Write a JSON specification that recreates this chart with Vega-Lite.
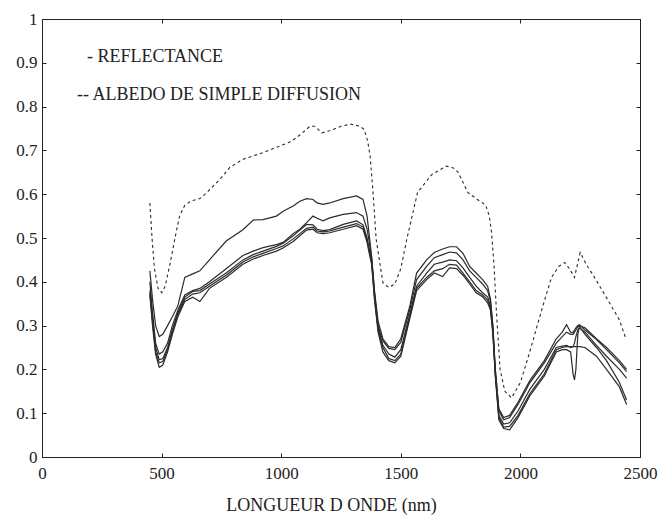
{
  "$schema": "https://vega.github.io/schema/vega-lite/v6.json",
  "width": 598,
  "height": 438,
  "autosize": {"type": "none"},
  "padding": {"left": 42, "top": 19, "right": 19, "bottom": 60},
  "background": "white",
  "config": {
    "view": {"stroke": "#222", "strokeWidth": 1},
    "font": "Liberation Serif",
    "axis": {"grid": false, "domainColor": "#222", "tickColor": "#222", "labelColor": "#222", "titleColor": "#222", "labelFontSize": 17, "titleFontSize": 18, "titleFontWeight": "normal", "labelFont": "Liberation Serif", "titleFont": "Liberation Serif"}
  },
  "datasets": {
    "refl": [
      {"x":451,"A":0.425,"B":0.40,"C":0.38,"D":0.375,"E":0.37},
      {"x":462,"A":0.36,"B":0.33,"C":0.32,"D":0.31,"E":0.30},
      {"x":475,"A":0.30,"B":0.26,"C":0.25,"D":0.24,"E":0.235},
      {"x":490,"A":0.275,"B":0.235,"C":0.222,"D":0.215,"E":0.205},
      {"x":505,"A":0.28,"B":0.24,"C":0.225,"D":0.218,"E":0.21},
      {"x":525,"A":0.30,"B":0.26,"C":0.25,"D":0.245,"E":0.24},
      {"x":545,"A":0.32,"B":0.30,"C":0.29,"D":0.285,"E":0.28},
      {"x":568,"A":0.345,"B":0.335,"C":0.33,"D":0.325,"E":0.32},
      {"x":597,"A":0.41,"B":0.37,"C":0.365,"D":0.36,"E":0.355},
      {"x":630,"A":0.418,"B":0.38,"C":0.378,"D":0.372,"E":0.365},
      {"x":660,"A":0.425,"B":0.385,"C":0.38,"D":0.375,"E":0.355},
      {"x":700,"A":0.45,"B":0.40,"C":0.395,"D":0.39,"E":0.385},
      {"x":770,"A":0.493,"B":0.43,"C":0.42,"D":0.415,"E":0.41},
      {"x":840,"A":0.519,"B":0.46,"C":0.45,"D":0.445,"E":0.44},
      {"x":883,"A":0.541,"B":0.47,"C":0.462,"D":0.457,"E":0.452},
      {"x":924,"A":0.542,"B":0.478,"C":0.47,"D":0.465,"E":0.46},
      {"x":980,"A":0.55,"B":0.485,"C":0.481,"D":0.476,"E":0.47},
      {"x":1008,"A":0.561,"B":0.49,"C":0.488,"D":0.482,"E":0.477},
      {"x":1050,"A":0.573,"B":0.51,"C":0.505,"D":0.498,"E":0.492},
      {"x":1078,"A":0.584,"B":0.52,"C":0.518,"D":0.51,"E":0.505},
      {"x":1106,"A":0.59,"B":0.535,"C":0.531,"D":0.522,"E":0.518},
      {"x":1133,"A":0.588,"B":0.55,"C":0.53,"D":0.525,"E":0.52},
      {"x":1150,"A":0.58,"B":0.545,"C":0.52,"D":0.516,"E":0.512},
      {"x":1175,"A":0.577,"B":0.539,"C":0.517,"D":0.514,"E":0.51},
      {"x":1203,"A":0.58,"B":0.546,"C":0.519,"D":0.516,"E":0.512},
      {"x":1259,"A":0.59,"B":0.554,"C":0.531,"D":0.525,"E":0.52},
      {"x":1315,"A":0.596,"B":0.558,"C":0.539,"D":0.533,"E":0.528},
      {"x":1342,"A":0.588,"B":0.55,"C":0.53,"D":0.525,"E":0.52},
      {"x":1359,"A":0.55,"B":0.52,"C":0.50,"D":0.495,"E":0.49},
      {"x":1370,"A":0.497,"B":0.485,"C":0.47,"D":0.465,"E":0.46},
      {"x":1378,"A":0.458,"B":0.455,"C":0.45,"D":0.445,"E":0.44},
      {"x":1390,"A":0.38,"B":0.375,"C":0.37,"D":0.365,"E":0.36},
      {"x":1405,"A":0.31,"B":0.30,"C":0.295,"D":0.29,"E":0.285},
      {"x":1425,"A":0.27,"B":0.265,"C":0.255,"D":0.25,"E":0.24},
      {"x":1450,"A":0.252,"B":0.248,"C":0.235,"D":0.225,"E":0.22},
      {"x":1475,"A":0.25,"B":0.245,"C":0.228,"D":0.22,"E":0.215},
      {"x":1500,"A":0.27,"B":0.262,"C":0.245,"D":0.235,"E":0.23},
      {"x":1537,"A":0.343,"B":0.335,"C":0.325,"D":0.32,"E":0.315},
      {"x":1566,"A":0.42,"B":0.405,"C":0.39,"D":0.385,"E":0.38},
      {"x":1608,"A":0.45,"B":0.435,"C":0.42,"D":0.41,"E":0.405},
      {"x":1640,"A":0.467,"B":0.455,"C":0.44,"D":0.425,"E":0.42},
      {"x":1675,"A":0.475,"B":0.462,"C":0.445,"D":0.43,"E":0.412},
      {"x":1704,"A":0.48,"B":0.468,"C":0.45,"D":0.44,"E":0.432},
      {"x":1733,"A":0.48,"B":0.466,"C":0.448,"D":0.438,"E":0.43},
      {"x":1760,"A":0.465,"B":0.45,"C":0.432,"D":0.42,"E":0.415},
      {"x":1788,"A":0.435,"B":0.425,"C":0.41,"D":0.40,"E":0.395},
      {"x":1815,"A":0.42,"B":0.41,"C":0.39,"D":0.38,"E":0.375},
      {"x":1842,"A":0.405,"B":0.395,"C":0.375,"D":0.37,"E":0.366},
      {"x":1863,"A":0.39,"B":0.38,"C":0.365,"D":0.358,"E":0.352},
      {"x":1875,"A":0.36,"B":0.355,"C":0.345,"D":0.34,"E":0.335},
      {"x":1885,"A":0.30,"B":0.295,"C":0.29,"D":0.285,"E":0.28},
      {"x":1895,"A":0.20,"B":0.20,"C":0.19,"D":0.19,"E":0.185},
      {"x":1910,"A":0.11,"B":0.105,"C":0.095,"D":0.09,"E":0.085},
      {"x":1930,"A":0.09,"B":0.085,"C":0.075,"D":0.068,"E":0.065},
      {"x":1955,"A":0.095,"B":0.09,"C":0.078,"D":0.07,"E":0.062},
      {"x":1990,"A":0.125,"B":0.12,"C":0.105,"D":0.095,"E":0.09},
      {"x":2040,"A":0.175,"B":0.17,"C":0.155,"D":0.145,"E":0.14},
      {"x":2100,"A":0.22,"B":0.215,"C":0.20,"D":0.19,"E":0.185},
      {"x":2150,"A":0.27,"B":0.26,"C":0.25,"D":0.245,"E":0.24},
      {"x":2175,"A":0.285,"B":0.275,"C":0.253,"D":0.25,"E":0.245},
      {"x":2193,"A":0.302,"B":0.285,"C":0.255,"D":0.252,"E":0.245},
      {"x":2210,"A":0.285,"B":0.28,"C":0.25,"D":0.252,"E":0.24},
      {"x":2220,"A":0.284,"B":0.28,"C":0.252,"D":0.252,"E":0.19},
      {"x":2226,"A":0.29,"B":0.285,"C":0.26,"D":0.252,"E":0.176},
      {"x":2232,"A":0.295,"B":0.29,"C":0.275,"D":0.252,"E":0.20},
      {"x":2240,"A":0.30,"B":0.297,"C":0.29,"D":0.252,"E":0.28},
      {"x":2247,"A":0.302,"B":0.30,"C":0.295,"D":0.252,"E":0.297},
      {"x":2270,"A":0.29,"B":0.295,"C":0.285,"D":0.25,"E":0.28},
      {"x":2318,"A":0.268,"B":0.27,"C":0.255,"D":0.23,"E":0.25},
      {"x":2360,"A":0.245,"B":0.25,"C":0.23,"D":0.20,"E":0.22},
      {"x":2414,"A":0.215,"B":0.22,"C":0.20,"D":0.16,"E":0.17},
      {"x":2444,"A":0.195,"B":0.20,"C":0.18,"D":0.12,"E":0.13}
    ],
    "albedo": [
      {"x":451,"y":0.58},{"x":460,"y":0.50},{"x":470,"y":0.43},{"x":485,"y":0.385},
      {"x":501,"y":0.375},{"x":515,"y":0.39},{"x":535,"y":0.44},{"x":556,"y":0.50},
      {"x":575,"y":0.55},{"x":597,"y":0.575},{"x":625,"y":0.585},{"x":660,"y":0.59},
      {"x":688,"y":0.603},{"x":744,"y":0.634},{"x":785,"y":0.661},{"x":841,"y":0.68},
      {"x":925,"y":0.695},{"x":994,"y":0.71},{"x":1040,"y":0.72},{"x":1078,"y":0.735},
      {"x":1120,"y":0.755},{"x":1140,"y":0.755},{"x":1170,"y":0.74},{"x":1203,"y":0.745},
      {"x":1250,"y":0.755},{"x":1290,"y":0.76},{"x":1330,"y":0.755},{"x":1347,"y":0.748},
      {"x":1362,"y":0.72},{"x":1372,"y":0.686},{"x":1384,"y":0.604},{"x":1397,"y":0.497},
      {"x":1425,"y":0.398},{"x":1450,"y":0.387},{"x":1475,"y":0.395},{"x":1500,"y":0.43},
      {"x":1525,"y":0.497},{"x":1570,"y":0.604},{"x":1630,"y":0.645},{"x":1690,"y":0.664},
      {"x":1720,"y":0.66},{"x":1740,"y":0.65},{"x":1780,"y":0.604},{"x":1820,"y":0.588},
      {"x":1855,"y":0.575},{"x":1870,"y":0.55},{"x":1880,"y":0.51},{"x":1890,"y":0.435},
      {"x":1900,"y":0.33},{"x":1915,"y":0.2},{"x":1935,"y":0.15},{"x":1963,"y":0.135},
      {"x":2000,"y":0.17},{"x":2038,"y":0.238},{"x":2093,"y":0.343},{"x":2130,"y":0.41},
      {"x":2160,"y":0.435},{"x":2186,"y":0.444},{"x":2205,"y":0.43},{"x":2226,"y":0.41},
      {"x":2250,"y":0.467},{"x":2275,"y":0.44},{"x":2310,"y":0.41},{"x":2364,"y":0.36},
      {"x":2414,"y":0.313},{"x":2440,"y":0.272}
    ],
    "labels": [
      {"x":188,"y":0.902,"t":"- REFLECTANCE"},
      {"x":146,"y":0.815,"t":"-- ALBEDO DE SIMPLE DIFFUSION"}
    ]
  },
  "layer": [
    {
      "data": {"name": "refl"},
      "transform": [{"fold": ["A","B","C","D","E"], "as": ["s","v"]}],
      "mark": {"type": "line", "stroke": "#2b2b2b", "strokeWidth": 1.2},
      "encoding": {
        "x": {"field": "x", "type": "quantitative", "scale": {"domain": [0,2500], "nice": false},
              "axis": {"title": "LONGUEUR D ONDE (nm)", "values": [0,500,1000,1500,2000,2500], "format": "d", "tickSize": -4, "labelPadding": 12, "titlePadding": 15, "titleX": 289, "titleAlign": "center", "labelFlush": false}},
        "y": {"field": "v", "type": "quantitative", "scale": {"domain": [0,1], "nice": false},
              "axis": {"title": null, "values": [0,0.1,0.2,0.3,0.4,0.5,0.6,0.7,0.8,0.9,1], "format": "~g", "tickSize": -4, "labelPadding": 9, "labelFlush": false}},
        "detail": {"field": "s"}
      }
    },
    {
      "data": {"name": "albedo"},
      "mark": {"type": "line", "stroke": "#2b2b2b", "strokeWidth": 1.1, "strokeDash": [3,3]},
      "encoding": {
        "x": {"field": "x", "type": "quantitative", "scale": {"domain": [0,2500], "nice": false},
              "axis": {"orient": "top", "title": null, "labels": false, "values": [0,500,1000,1500,2000,2500], "tickSize": -4}},
        "y": {"field": "y", "type": "quantitative", "scale": {"domain": [0,1], "nice": false},
              "axis": {"orient": "right", "title": null, "labels": false, "values": [0,0.1,0.2,0.3,0.4,0.5,0.6,0.7,0.8,0.9,1], "tickSize": -4}}
      }
    },
    {
      "data": {"name": "labels"},
      "mark": {"type": "text", "align": "left", "baseline": "alphabetic", "fontSize": 18, "font": "Liberation Serif", "color": "#222"},
      "encoding": {
        "x": {"field": "x", "type": "quantitative", "axis": null},
        "y": {"field": "y", "type": "quantitative", "axis": null},
        "text": {"field": "t"}
      }
    }
  ],
  "resolve": {"axis": {"x": "independent", "y": "independent"}}
}
